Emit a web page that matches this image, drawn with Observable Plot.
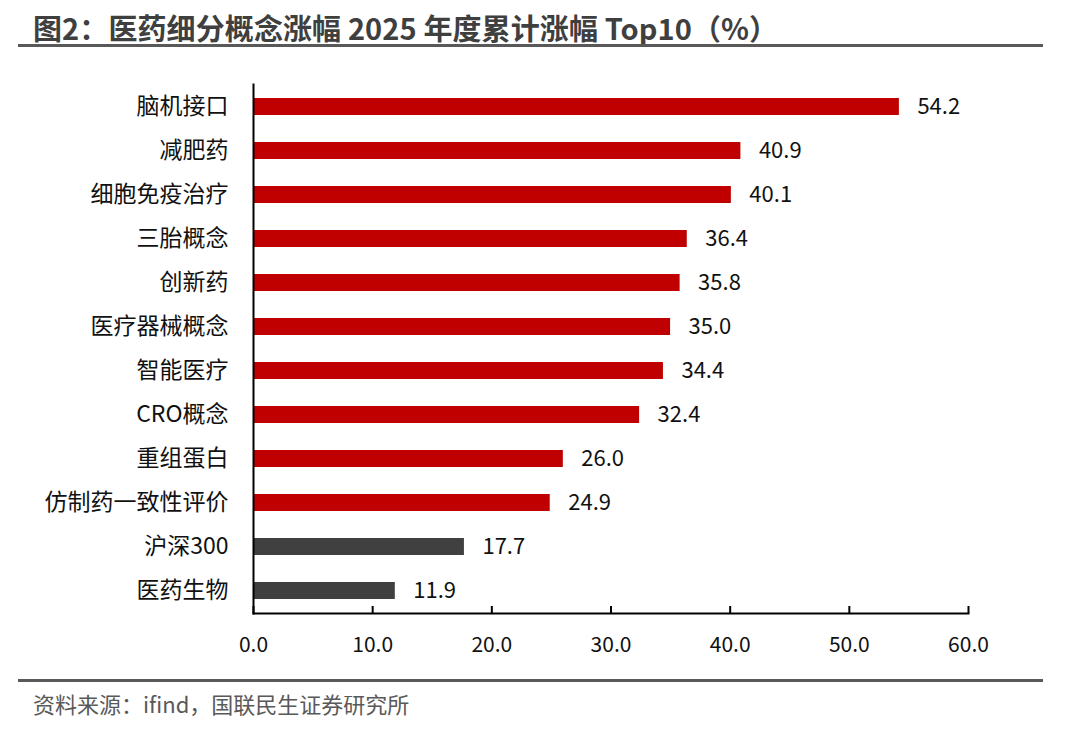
<!DOCTYPE html>
<html>
<head>
<meta charset="utf-8">
<script src="https://cdn.jsdelivr.net/npm/d3@7"></script>
<script src="https://cdn.jsdelivr.net/npm/@observablehq/plot@0.6"></script>
<style>
  body { margin: 0; background: #fff; width: 1080px; height: 732px; position: relative; overflow: hidden; font-family: "Noto Sans CJK SC", sans-serif; }
  #title { position: absolute; left: 33px; top: 6px; font-size: 29px; font-weight: bold; color: #3f3f3f; white-space: nowrap; letter-spacing: 0.1px; }
  #titleRule { position: absolute; left: 18px; top: 44px; width: 1025px; height: 3px; background: #595959; }
  #chart { position: absolute; left: 0; top: 60px; }
  #capRule { position: absolute; left: 18px; top: 679px; width: 1025px; height: 3px; background: #595959; }
  #caption { position: absolute; left: 33px; top: 687px; font-size: 22px; color: #595959; white-space: nowrap; }
</style>
</head>
<body>
<div id="title">图2：医药细分概念涨幅 2025 年度累计涨幅 Top10（%）</div>
<div id="titleRule"></div>
<div id="chart"></div>
<div id="capRule"></div>
<div id="caption">资料来源：ifind，国联民生证券研究所</div>
<script>
const categories = ["脑机接口", "减肥药", "细胞免疫治疗", "三胎概念", "创新药", "医疗器械概念", "智能医疗", "CRO概念", "重组蛋白", "仿制药一致性评价", "沪深300", "医药生物"];
const values = [54.2, 40.9, 40.1, 36.4, 35.8, 35.0, 34.4, 32.4, 26.0, 24.9, 17.7, 11.9];
const groups = ["概念", "概念", "概念", "概念", "概念", "概念", "概念", "概念", "概念", "概念", "指数", "指数"];
const xTicks = [0, 10, 20, 30, 40, 50, 60];

const data = categories.map((c, i) => ({category: c, value: values[i], group: groups[i]}));

const W = 1080, H = 620, mT = 24, mB = 67, mL = 253, mR = 112;
const font = "Noto Sans CJK SC";

const chart = Plot.plot({
  width: W,
  height: H,
  marginTop: mT,
  marginBottom: mB,
  marginLeft: mL,
  marginRight: mR,
  style: {fontFamily: font, background: "#fff"},
  x: {domain: [0, 60], ticks: xTicks},
  y: {domain: categories, paddingInner: 0.614, paddingOuter: 0.307},
  color: {domain: ["概念", "指数"], range: ["#C00000", "#404040"]},
  marks: [
    Plot.barX(data, {x: "value", y: "category", fill: "group"}),
    Plot.text(data, {x: "value", y: "category", text: d => d.value.toFixed(1), textAnchor: "start", dx: 18, fontSize: 22, fill: "#111"}),
    Plot.axisY({tickSize: 0, tickPadding: 25, fontSize: 23, color: "#111", label: null}),
    Plot.axisX({ticks: xTicks, tickSize: 0, tickPadding: 24, fontSize: 21, color: "#111", tickFormat: d => d.toFixed(1), label: null}),
    Plot.ruleX(xTicks, {x: d => d, insetTop: H - mT - mB - 7, stroke: "#000", strokeWidth: 2}),
    Plot.frame({anchor: "left", stroke: "#000", strokeWidth: 2}),
    Plot.frame({anchor: "bottom", stroke: "#000", strokeWidth: 2})
  ]
});
document.getElementById("chart").appendChild(chart);
</script>
</body>
</html>
